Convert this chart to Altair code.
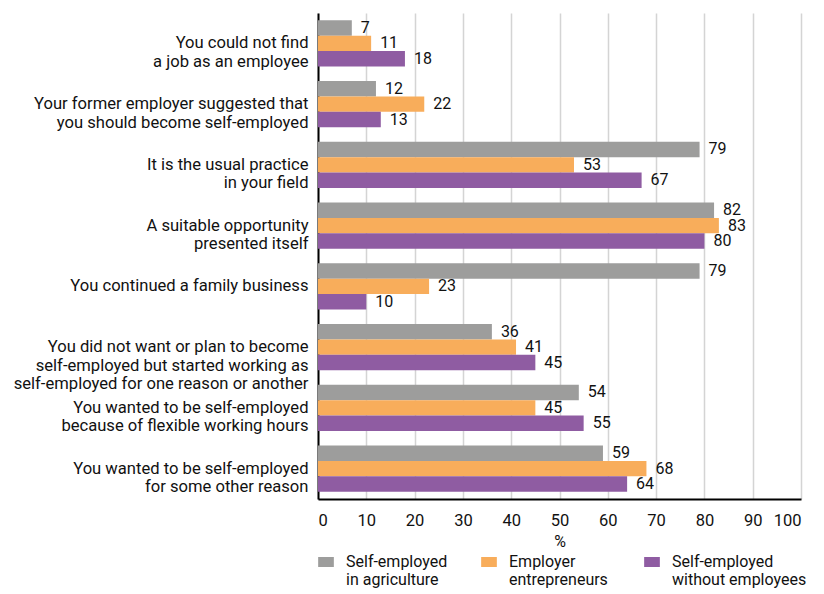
import altair as alt
import pandas as pd

categories = [
    "You could not find|a job as an employee",
    "Your former employer suggested that|you should become self-employed",
    "It is the usual practice|in your field",
    "A suitable opportunity|presented itself",
    "You continued a family business",
    "You did not want or plan to become|self-employed but started working as|self-employed for one reason or another",
    "You wanted to be self-employed|because of flexible working hours",
    "You wanted to be self-employed|for some other reason",
]
series = ["Self-employed in agriculture", "Employer entrepreneurs", "Self-employed without employees"]
agriculture = [7, 12, 79, 82, 79, 36, 54, 59]
employers = [11, 22, 53, 83, 23, 41, 45, 68]
without_emp = [18, 13, 67, 80, 10, 45, 55, 64]
colors = ["#9d9d9c", "#f8ad5b", "#8f5ca2"]

rows = []
for i, c in enumerate(categories):
    for s, vals in zip(series, [agriculture, employers, without_emp]):
        rows.append({"category": c, "series": s, "value": vals[i]})
df = pd.DataFrame(rows)

FONT = "Roboto"
FS = 16

y = alt.Y("category:N", sort=categories, title=None,
          scale=alt.Scale(paddingInner=0.24, paddingOuter=0.12),
          axis=alt.Axis(labelExpr="split(datum.label, '|')", ticks=False,
                        domainColor="#000000", domainWidth=2, labelFontSize=16.6,
                        labelColor="#111111", labelFont=FONT, labelPadding=10,
                        labelLineHeight=18.5, labelLimit=400))
yoff = alt.YOffset("series:N", sort=series)

legend_expr = ("datum.label == 'Self-employed in agriculture' ? ['Self-employed','in agriculture'] : "
               "datum.label == 'Employer entrepreneurs' ? ['Employer','entrepreneurs'] : "
               "['Self-employed','without employees']")

bars = alt.Chart(df).mark_bar().encode(
    x=alt.X("value:Q", title="%", scale=alt.Scale(domain=[0, 100], nice=False),
            axis=alt.Axis(values=list(range(0, 101, 10)), ticks=False, grid=True,
                          gridColor="#d4d4d4", gridWidth=1.5,
                          domainColor="#000000", domainWidth=2,
                          labelFontSize=FS + 0.5, labelColor="#111111", labelFont=FONT,
                          titleFontSize=FS, titleFont=FONT, titleFontWeight="normal",
                          titleColor="#111111", labelPadding=13, titlePadding=5)),
    y=y,
    yOffset=yoff,
    color=alt.Color("series:N", sort=series,
                    scale=alt.Scale(domain=series, range=colors),
                    legend=alt.Legend(title=None, orient="bottom", direction="horizontal",
                                      columns=3, labelExpr=legend_expr, gridAlign="all",
                                      symbolType="M-1.57,-1H1.57V1H-1.57Z", symbolSize=100,
                                      symbolStrokeWidth=0, symbolOpacity=1,
                                      labelFontSize=FS, labelFont=FONT, labelColor="#111111",
                                      labelLimit=200, columnPadding=0, symbolOffset=0,
                                      offset=4, labelOffset=12)),
)

text = alt.Chart(df).mark_text(align="left", baseline="middle", dx=9,
                               fontSize=FS, font=FONT, color="#111111").encode(
    x="value:Q", y=alt.Y("category:N", sort=categories), yOffset=yoff,
    text="value:Q",
)

chart = alt.layer(bars, text).properties(width=483, height=486).configure_view(
    stroke=None).configure_legend(symbolLimit=0)

chart.save("out.html", embed_options={"renderer": "svg", "actions": False})
